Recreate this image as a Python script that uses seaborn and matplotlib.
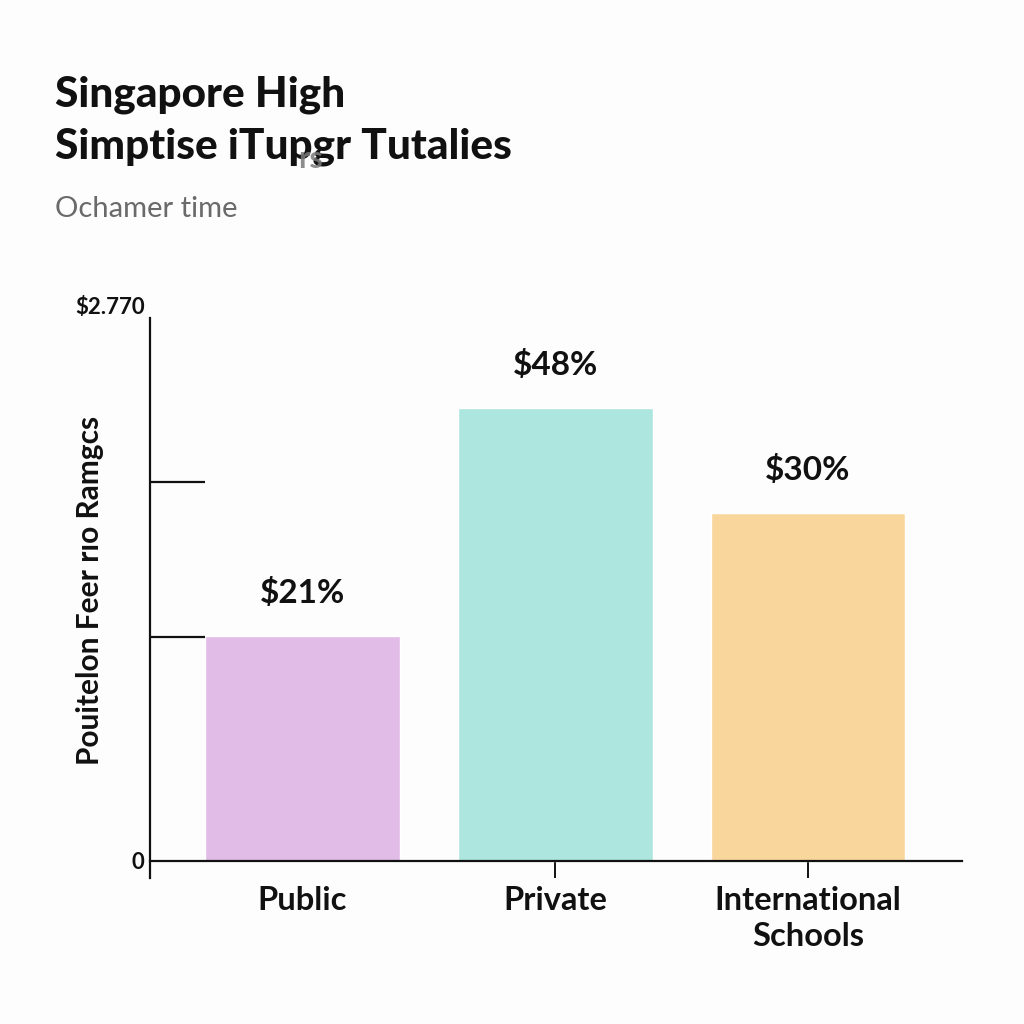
import matplotlib
matplotlib.use("Agg")
import matplotlib.pyplot as plt
import seaborn as sns
import pandas as pd

# ---- data ----
categories = ["Public", "Private", "International\nSchools"]
values = [1.148, 2.311, 1.775]
value_labels = ["$21%", "$48%", "$30%"]
bar_colors = ["#E0BCE7", "#ADE6DE", "#F9D69C"]
guide_levels = [1.143, 1.933]
ytick_values = [0, 2.77]
ytick_labels = ["0", "$2.770"]
title_lines = ["Singapore High", "Simptise iTupgr Tutalies"]
subtitle = "Ochamer time"
ylabel = "Pouitelon Feer rıo Ramgcs"

sns.set_theme(style="white")
plt.rcParams["font.family"] = ["Lato", "DejaVu Sans"]

BG = "#FDFDFD"
fig = plt.figure(figsize=(10.24, 10.24), dpi=100, facecolor=BG)
ax = fig.add_axes([150 / 1024, 146 / 1024, 812 / 1024, 560 / 1024])
ax.set_facecolor(BG)

df = pd.DataFrame({"cat": categories, "val": values})
bar_w = 0.77
sns.barplot(data=df, x="cat", y="val", hue="cat", palette=bar_colors,
            width=bar_w, legend=False, ax=ax, saturation=1)

ax.set_xlim(-0.603, 2.609)
ax.set_ylim(-0.087, 2.77)

# spines
for s in ["top", "right"]:
    ax.spines[s].set_visible(False)
ax.spines["left"].set_linewidth(1.6)
ax.spines["left"].set_color("#111111")
ax.spines["bottom"].set_position(("data", 0))
ax.spines["bottom"].set_linewidth(1.6)
ax.spines["bottom"].set_color("#111111")

# guide lines at left
for g in guide_levels:
    ax.hlines(g, -0.603, 0 - bar_w / 2, color="#111111", lw=1.6, zorder=3)

# x ticks
ax.set_xlabel("")
ax.tick_params(axis="x", direction="out", length=12, width=1.4, color="#111111",
               pad=6, labelsize=23.5, bottom=True)
for lbl in ax.get_xticklabels():
    lbl.set_fontweight("bold")
    lbl.set_color("#111111")
    lbl.set_linespacing(1.3)
ax.xaxis.get_major_ticks()[0].tick1line.set_visible(False)

# y ticks
ax.set_yticks(ytick_values)
ax.set_yticklabels(ytick_labels)
ax.tick_params(axis="y", length=0, pad=4, labelsize=16, left=True)
for lbl in ax.get_yticklabels():
    lbl.set_fontweight("bold")
    lbl.set_color("#111111")
ax.get_yticklabels()[1].set_va("bottom")

ax.set_ylabel(ylabel, fontsize=21.5, fontweight="bold", color="#111111")
ax.yaxis.set_label_coords(-0.057, 0.514)

# value labels
for i, (v, t) in enumerate(zip(values, value_labels)):
    ax.annotate(t, (i, v), xytext=(0, 20), textcoords="offset points",
                ha="center", va="bottom", fontsize=24, fontweight="bold",
                color="#111111")

# titles
fig.text(55 / 1024, 1 - 107 / 1024, title_lines[0], fontsize=30.5,
         fontweight="black", color="#111111", va="baseline", ha="left")
fig.text(55 / 1024, 1 - 158 / 1024, title_lines[1], fontsize=30.5,
         fontweight="black", color="#111111", va="baseline", ha="left")
fig.text(311 / 1024, 1 - 168 / 1024, "rs", fontsize=22, fontweight="bold",
         color="#7A7A7A", alpha=0.85, va="baseline", ha="center")
fig.text(55 / 1024, 1 - 217 / 1024, subtitle, fontsize=21,
         color="#6A6A6A", va="baseline", ha="left")

fig.savefig("out.png", dpi=100, facecolor=BG)
